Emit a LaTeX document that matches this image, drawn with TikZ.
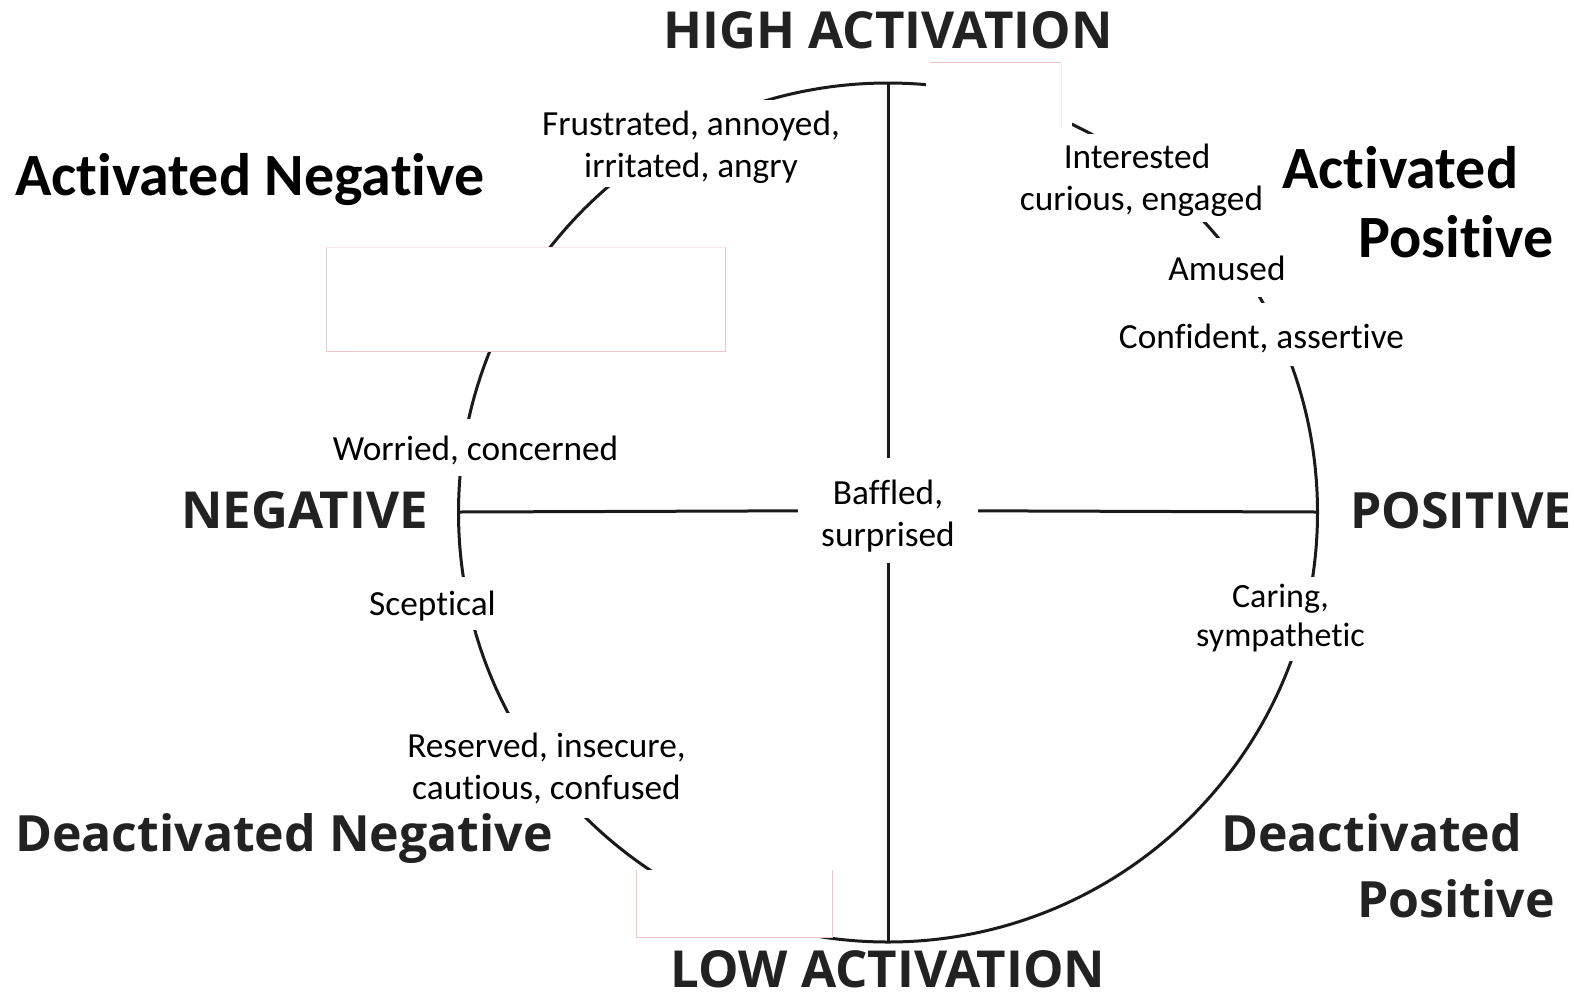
\documentclass[tikz,border=0pt]{standalone}
\usepackage{fontspec}
\newfontfamily\carlito[Ligatures=NoCommon]{Carlito}
\newfontfamily\opensans{Open Sans}
\definecolor{ink}{HTML}{1A1A1A}
\definecolor{headgray}{HTML}{222222}
\definecolor{pinkedge}{HTML}{F2C6C6}
\definecolor{pinkfaint}{HTML}{F9E6E6}
\begin{document}
\begin{tikzpicture}[x=1pt,y=-1pt,
  ring/.style={draw=ink, line width=3pt},
  axis/.style={draw=ink, line width=3pt},
  lbl/.style={font=\carlito\fontsize{35.3}{42}\selectfont, fill=white, align=center, inner sep=0pt},
  % first baseline sits #1 below the top of the box, last baseline #2 above its bottom
  rules/.style 2 args={execute at begin node={\rule{0pt}{#1pt}},
    execute at end node={\rule[-#2pt]{0pt}{#2pt}}, minimum height=#1+#2},
  head/.style={font=\opensans\bfseries\fontsize{50}{65}\selectfont, text=headgray, inner sep=0pt},
  axishead/.style={head, font=\opensans\bfseries\fontsize{51}{65}\selectfont},
  quad/.style={font=\carlito\bfseries\fontsize{60}{71}\selectfont, text=black, inner sep=0pt},
  edge/.style={draw=pinkedge, line width=1pt},
  faint/.style={draw=pinkfaint, line width=1pt},
]
\useasboundingbox[fill=white] (0,0) rectangle (1574,997);

% the circumplex ring
\draw[ring] (888,512.5) circle[radius=429.5pt];

% white panels laid over the ring
\fill[white] (326,247) rectangle (725,351);
\draw[edge] (326,247) -- (326,351) -- (725,351) -- (725,247);
\draw[faint] (326,247) -- (725,247);
\fill[white] (926,62) rectangle (1072,128);
\draw[edge] (930,62) -- (1061,62);
\draw[faint] (1061,62) -- (1061,128);
\fill[white] (636,870) rectangle (832,937);
\draw[edge] (636,870) -- (636,937) -- (832,937) -- (832,870);

% emotion labels on the ring
\node[lbl, rules={77.5}{10}, minimum width=300] (frus) at (691,143.25) {Frustrated, annoyed,\\irritated, angry};
\node[lbl, rules={76}{11.5}, minimum width=250] (inter) at (1141.5,177.75) {Interested\rule{9pt}{0pt}\\curious, engaged};
\node[lbl, rules={42.8}{16.7}, minimum width=120] (amused) at (1227,267.25) {Amused};
\node[lbl, rules={45.7}{17.3}, minimum width=290] (conf) at (1261.5,334.5) {Confident, assertive};
\node[lbl, rules={41}{16}, minimum width=290] (worried) at (475.5,447.5) {Worried, concerned};
\node[lbl, rules={38}{15}, minimum width=130] (scept) at (432.5,603.5) {Sceptical};
\node[lbl, rules={69}{15}, minimum width=175, font=\carlito\fontsize{34}{39}\selectfont] (caring) at (1280.5,619) {Caring,\\sympathetic};
\node[lbl, rules={87}{18.5}, minimum width=285] (reserved) at (546.5,765.25) {Reserved, insecure,\\cautious, confused};
\node[lbl, rules={88}{17}, minimum width=180] (baffled) at (888,510.5) {Baffled,\\surprised};

% axes
\coordinate (top) at (888,83);
\coordinate (bottom) at (888,942);
\coordinate (left) at (458.5,512);
\coordinate (right) at (1317.5,512);
\draw[axis] (top) -- (baffled);
\draw[axis] (baffled) -- (bottom);
\draw[axis] (left) -- (baffled);
\draw[axis] (baffled) -- (right);

% axis titles
\node[axishead, anchor=base] (high) at (888,48) {HIGH ACTIVATION};
\node[axishead, anchor=base] (low) at (888,987) {LOW ACTIVATION};
\node[axishead, anchor=base west] (neg) at (181,528) {NEGATIVE};
\node[head, anchor=base west] (pos) at (1350,528) {POSITIVE};

% quadrant titles
\node[quad, anchor=base west] (an) at (15,195) {Activated Negative};
\node[quad, anchor=base west] (ap1) at (1282,188) {Activated};
\node[quad, anchor=base west] (ap2) at (1358,257) {Positive};
\node[head, anchor=base west] (dn) at (15,851) {Deactivated Negative};
\node[head, anchor=base west] (dp1) at (1221,851) {Deactivated};
\node[head, anchor=base west] (dp2) at (1357,917) {Positive};
\end{tikzpicture}
\end{document}
